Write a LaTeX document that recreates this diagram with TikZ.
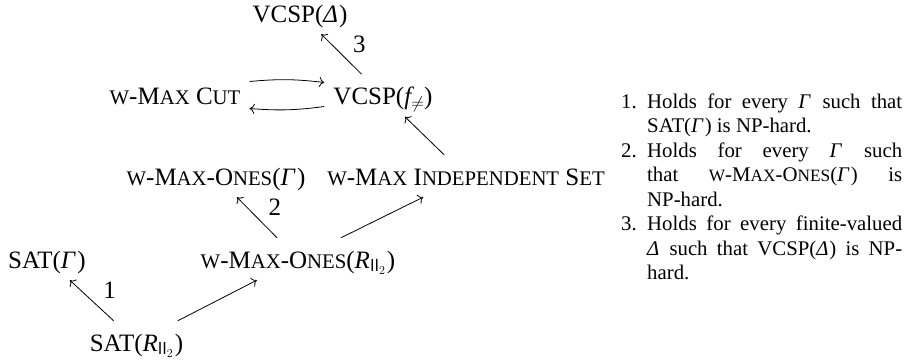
\documentclass[tikz,border=0pt]{standalone}
\usepackage{fontspec}
\setmainfont{Liberation Serif}
\usetikzlibrary{arrows.meta}
\newcommand\dfont{\fontsize{25}{30}\selectfont}
\newcommand\lfont{\fontsize{20.8}{24.5}\selectfont}
\newcommand\dsc[1]{{\fontsize{20.75}{24}\selectfont #1}}
\newcommand\lsc[1]{{\fontsize{17.3}{20}\selectfont #1}}
\newcommand\subII{$_{\mathsf{II}_2}$\kern1pt}
\newcommand\itG{{\itshape Γ\kern0.09em}}
\newcommand\itD{{\itshape Δ\kern0.04em}}
\newcommand\noteitem[2]{\par\noindent\hangindent=26pt\hangafter=1\makebox[26pt][r]{#1\hspace{10.4pt}}#2\par}
\tikzset{
  dnode/.style={font=\dfont, text height=24pt, text depth=6pt, inner xsep=9pt, inner ysep=6pt, anchor=base},
  arr/.style={-{Computer Modern Rightarrow[length=5pt,width=10pt]}, line width=0.8pt},
  lbl/.style={font=\dfont, midway, xshift=18pt, yshift=10pt, inner sep=0pt}
}
\begin{document}
\begin{tikzpicture}[x=1pt,y=-1pt]
\useasboundingbox (0,0) rectangle (905,364);
\node[dnode] (vd) at (300,22) {VCSP(\itD)};
\node[dnode] (cut) at (175,104.5) {\dsc{W}-M\dsc{AX} C\dsc{UT}};
\node[dnode] (fne) at (383,104.5) {VCSP({\itshape f}$_{\neq}$)};
\node[dnode] (onesG) at (216,185) {\dsc{W}-M\dsc{AX}-O\dsc{NES}(\itG)};
\node[dnode] (indep) at (466,185) {\dsc{W}-M\dsc{AX} I\dsc{NDEPENDENT} S\dsc{ET}};
\node[dnode] (satG) at (47,268) {SAT(\itG)};
\node[dnode] (onesR) at (298,268) {\dsc{W}-M\dsc{AX}-O\dsc{NES}({\itshape R}\subII)};
\node[dnode] (satR) at (136.5,351) {SAT({\itshape R}\subII)};

\draw[arr] (fne) -- node[lbl]{3} (vd);
\draw[arr] ([yshift=14pt]cut.east) to[bend left=6] ([yshift=13pt]fne.west);
\draw[arr] ([yshift=-11pt]fne.west) to[bend left=6] ([yshift=-13pt]cut.east);
\draw[arr] (indep) -- (fne);
\draw[arr] (onesR) -- node[lbl]{2} (onesG);
\draw[arr] (onesR) -- (indep);
\draw[arr] (satR) -- node[lbl]{1} (satG);
\draw[arr] (satR) -- (onesR);

\node[anchor=base west, inner sep=0pt, font=\lfont] (notes) at (621,108) {\begin{minipage}[t]{281pt}\lfont\baselineskip=24.5pt\parskip=0pt
\noteitem{1.}{Holds for every \itG{} such that\linebreak SAT(\itG) is NP-hard.}
\noteitem{2.}{Holds for every \itG{} such\linebreak that \lsc{W}-M\lsc{AX}-O\lsc{NES}(\itG) is\linebreak NP-hard.}
\noteitem{3.}{Holds for every finite-valued\linebreak \itD{} such that VCSP(\itD) is NP-\linebreak hard.}
\end{minipage}};
\end{tikzpicture}
\end{document}
